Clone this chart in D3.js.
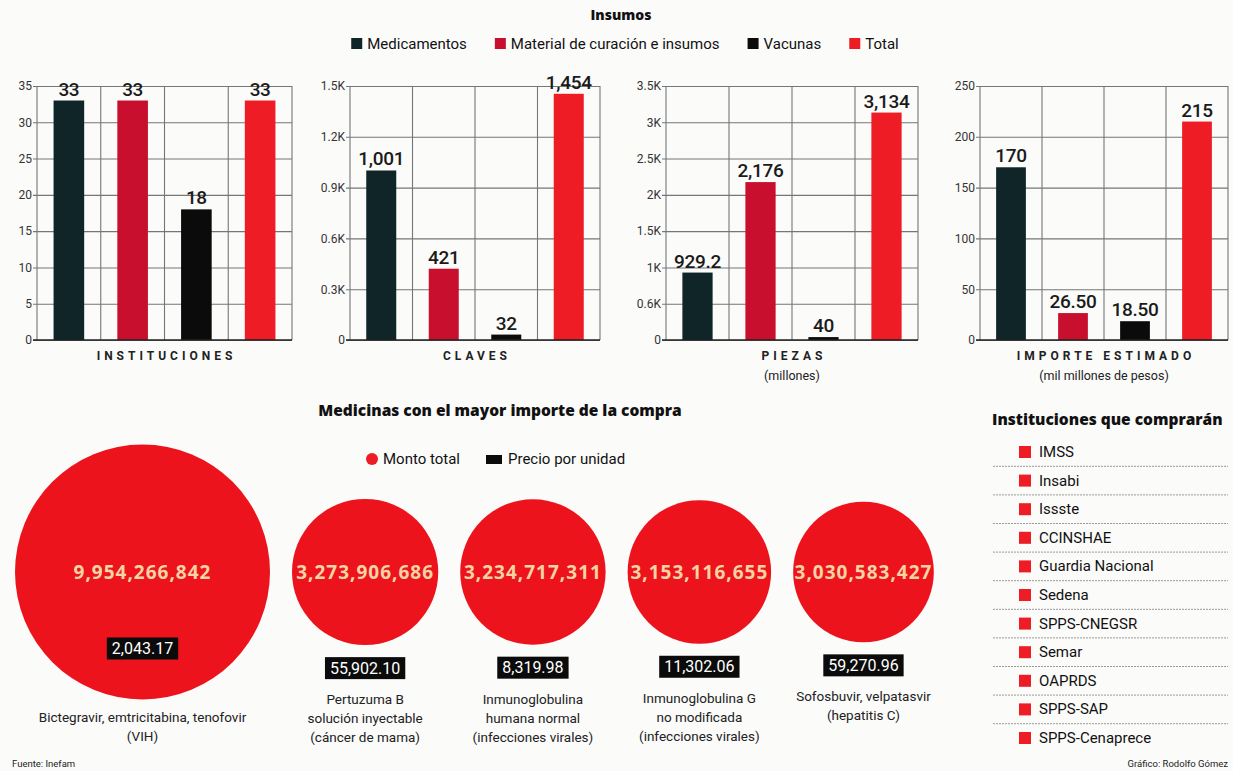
<!DOCTYPE html>
<meta charset="utf-8">
<script src="https://d3js.org/d3.v7.min.js"></script>
<style>
  body { margin: 0; background: #fbfbfa; }
  text { font-family: "Liberation Sans Narrow", Roboto, sans-serif; }
</style>
<svg id="chart" width="1233" height="771"></svg>
<script>
// ---- data ----
const categories = ["Medicamentos", "Material de curación e insumos", "Vacunas", "Total"];
const catColors = ["#0f2527", "#c8102e", "#0b0b0b", "#ee1c25"];

const instituciones = [33, 33, 18, 33];
const claves = [1001, 421, 32, 1454];
const piezas = [929.2, 2176, 40, 3134];
const importe = [170, 26.5, 18.5, 215];

const instTicks = [0, 5, 10, 15, 20, 25, 30, 35];
const instTickLabels = ["0", "5", "10", "15", "20", "25", "30", "35"];
const clavesTicks = [0, 300, 600, 900, 1200, 1500];
const clavesTickLabels = ["0", "0.3K", "0.6K", "0.9K", "1.2K", "1.5K"];
const piezasTicks = [0, 500, 1000, 1500, 2000, 2500, 3000, 3500];
const piezasTickLabels = ["0", "0.6K", "1K", "1.5K", "2K", "2.5K", "3K", "3.5K"];
const importeTicks = [0, 50, 100, 150, 200, 250];
const importeTickLabels = ["0", "50", "100", "150", "200", "250"];

const medNames = [
  ["Bictegravir, emtricitabina, tenofovir", "(VIH)"],
  ["Pertuzuma B", "solución inyectable", "(cáncer de mama)"],
  ["Inmunoglobulina", "humana normal", "(infecciones virales)"],
  ["Inmunoglobulina G", "no modificada", "(infecciones virales)"],
  ["Sofosbuvir, velpatasvir", "(hepatitis C)"]
];
const montos = [9954266842, 3273906686, 3234717311, 3153116655, 3030583427];
const precios = [2043.17, 55902.10, 8319.98, 11302.06, 59270.96];

const instituciones2 = ["IMSS", "Insabi", "Issste", "CCINSHAE", "Guardia Nacional", "Sedena",
  "SPPS-CNEGSR", "Semar", "OAPRDS", "SPPS-SAP", "SPPS-Cenaprece"];

// ---- setup ----
const svg = d3.select("#chart");
const red = "#ee1c25";

svg.append("text").attr("x", 621).attr("y", 20).attr("text-anchor", "middle")
  .style("font-family", "'Open Sans', sans-serif").style("font-weight", 800)
  .style("font-size", "14px").attr("fill", "#111").text("Insumos");

// top legend
const leg = svg.append("g");
let lx = 0;
categories.forEach((c, i) => {
  const g = leg.append("g").attr("transform", `translate(${lx},0)`);
  g.append("rect").attr("x", 0).attr("y", -6).attr("width", 11).attr("height", 11).attr("fill", catColors[i]);
  const t = g.append("text").attr("x", 16).attr("y", 5).style("font-size", "15px").attr("fill", "#111").text(c);
  lx += 16 + t.node().getComputedTextLength() + 28;
});
leg.attr("transform", `translate(${625 - (lx - 28) / 2},44)`);

// ---- bar charts ----
const plotBottom = 340, plotTop = 86;
function barChart(cfg) {
  const g = svg.append("g");
  const y = d3.scaleLinear().domain([0, d3.max(cfg.ticks)]).range([plotBottom, plotTop]);
  const x = d3.scaleBand().domain(categories).range([cfg.x0, cfg.x1]).paddingInner(0.52).paddingOuter(0.26);

  // horizontal grid + tick labels
  const yAxis = d3.axisLeft(y).tickValues(cfg.ticks)
    .tickFormat((d, i) => cfg.tickLabels[i])
    .tickSize(-(cfg.x1 - cfg.x0)).tickPadding(5);
  const ax = g.append("g").attr("transform", `translate(${cfg.x0},0)`).call(yAxis);
  ax.select(".domain").remove();
  ax.selectAll(".tick line").attr("x1", -4).attr("stroke", "#767676").attr("stroke-width", 1.1);
  ax.selectAll(".tick text").style("font-size", "12px").attr("fill", "#333");

  // vertical grid
  const bounds = categories.map(c => x(c) - x.step() * x.paddingOuter()).concat([cfg.x1]);
  g.selectAll(".vg").data(bounds).join("line")
    .attr("x1", d => d).attr("x2", d => d).attr("y1", plotTop).attr("y2", plotBottom)
    .attr("stroke", "#767676").attr("stroke-width", 1.1);

  g.selectAll(".bar").data(cfg.values).join("rect")
    .attr("x", (d, i) => x(categories[i])).attr("width", x.bandwidth())
    .attr("y", d => y(d)).attr("height", d => plotBottom - y(d))
    .attr("fill", (d, i) => catColors[i]);

  g.append("line").attr("x1", cfg.x0 - 4).attr("x2", cfg.x1).attr("y1", plotBottom).attr("y2", plotBottom)
    .attr("stroke", "#222").attr("stroke-width", 1.5);

  g.selectAll(".val").data(cfg.values).join("text")
    .attr("x", (d, i) => x(categories[i]) + x.bandwidth() / 2).attr("y", d => y(d) - 5)
    .attr("text-anchor", "middle").style("font-size", "19px").style("font-weight", 500)
    .style("letter-spacing", "-0.3px").attr("fill", "#1a1a1a")
    .text(cfg.fmt);

  const cx = (cfg.x0 + cfg.x1) / 2;
  g.append("text").attr("x", cx + 2).attr("y", 360).attr("text-anchor", "middle")
    .style("font-size", "12px").style("font-weight", "bold").style("letter-spacing", "4px")
    .attr("fill", "#222").text(cfg.title);
  if (cfg.subtitle) {
    g.append("text").attr("x", cx).attr("y", 380).attr("text-anchor", "middle")
      .style("font-size", "12.5px").attr("fill", "#222").text(cfg.subtitle);
  }
}

const fmtComma = d3.format(",");
barChart({ x0: 37, x1: 292, values: instituciones, ticks: instTicks, tickLabels: instTickLabels,
  title: "INSTITUCIONES", fmt: fmtComma });
barChart({ x0: 350, x1: 600, values: claves, ticks: clavesTicks, tickLabels: clavesTickLabels,
  title: "CLAVES", fmt: fmtComma });
barChart({ x0: 666, x1: 918, values: piezas, ticks: piezasTicks, tickLabels: piezasTickLabels,
  title: "PIEZAS", subtitle: "(millones)", fmt: fmtComma });
barChart({ x0: 980, x1: 1228, values: importe, ticks: importeTicks, tickLabels: importeTickLabels,
  title: "IMPORTE ESTIMADO", subtitle: "(mil millones de pesos)",
  fmt: d => Number.isInteger(d) ? String(d) : d.toFixed(2) });

// ---- medicines ----
svg.append("text").attr("x", 500).attr("y", 416).attr("text-anchor", "middle")
  .style("font-family", "'Open Sans', sans-serif").style("font-weight", 800)
  .style("font-size", "15.5px").attr("fill", "#111")
  .text("Medicinas con el mayor importe de la compra");

const ml = svg.append("g").attr("transform", "translate(0,459)");
ml.append("circle").attr("cx", 372).attr("cy", 0).attr("r", 6).attr("fill", red);
ml.append("text").attr("x", 383).attr("y", 5).style("font-size", "15px").attr("fill", "#111").text("Monto total");
ml.append("rect").attr("x", 486).attr("y", -4).attr("width", 16).attr("height", 9).attr("fill", "#0b0b0b");
ml.append("text").attr("x", 508).attr("y", 5).style("font-size", "15px").attr("fill", "#111").text("Precio por unidad");

const r = d3.scaleSqrt().domain([0, d3.max(montos)]).range([0, 127.5]);
const cy = 572;
const gap = 22;
let edge = 15;
const centers = montos.map(m => { const c = edge + r(m); edge = c + r(m) + gap; return c; });

const fmtPrice = d3.format(",.2f");
const med = svg.append("g");
montos.forEach((m, i) => {
  const cx = centers[i], rr = r(m);
  med.append("circle").attr("cx", cx).attr("cy", cy).attr("r", rr).attr("fill", "#ec131c");
  med.append("text").attr("x", cx).attr("y", cy + 7).attr("text-anchor", "middle")
    .style("font-family", "'Open Sans', sans-serif").style("font-weight", "bold")
    .style("font-size", "19px").style("letter-spacing", "1px").attr("fill", "#f6d3a3")
    .text(fmtComma(m));

  // price box: inside the big circle, below the smaller ones
  const inside = rr > 100;
  const boxY = inside ? cy + rr * 0.6 : cy + rr + 23;
  const pt = med.append("text").attr("x", cx).attr("y", boxY + 5.5).attr("text-anchor", "middle")
    .style("font-size", "16px").attr("fill", "#fff").text(fmtPrice(precios[i]));
  const w = pt.node().getComputedTextLength() + 10;
  med.insert("rect", () => pt.node()).attr("x", cx - w / 2).attr("y", boxY - 11)
    .attr("width", w).attr("height", 22).attr("fill", "#0b0b0b");

  const nameY = inside ? cy + rr + 22 : boxY + 36;
  medNames[i].forEach((line, j) => {
    med.append("text").attr("x", cx).attr("y", nameY + j * 19).attr("text-anchor", "middle")
      .style("font-size", "13.5px").attr("fill", "#222").text(line);
  });
});

// ---- institutions list ----
svg.append("text").attr("x", 992).attr("y", 425)
  .style("font-family", "'Open Sans', sans-serif").style("font-weight", 800)
  .style("font-size", "15.5px").attr("fill", "#111")
  .text("Instituciones que comprarán");

const rowY = d3.scalePoint().domain(instituciones2).range([452, 738]);
const list = svg.append("g");
instituciones2.forEach((name, i) => {
  const yy = rowY(name);
  list.append("rect").attr("x", 1019).attr("y", yy - 6).attr("width", 12).attr("height", 12).attr("fill", red);
  list.append("text").attr("x", 1039).attr("y", yy + 5).style("font-size", "15px").attr("fill", "#111").text(name);
  if (i < instituciones2.length - 1) {
    list.append("line").attr("x1", 993).attr("x2", 1228).attr("y1", yy + 14.3).attr("y2", yy + 14.3)
      .attr("stroke", "#9a9a9a").attr("stroke-width", 1).attr("stroke-dasharray", "2,1");
  }
});

// ---- footer ----
svg.append("text").attr("x", 12).attr("y", 767).style("font-size", "9.5px").attr("fill", "#222").text("Fuente: Inefam");
svg.append("text").attr("x", 1228).attr("y", 767).attr("text-anchor", "end").style("font-size", "9.5px")
  .attr("fill", "#222").text("Gráfico: Rodolfo Gómez");
</script>
